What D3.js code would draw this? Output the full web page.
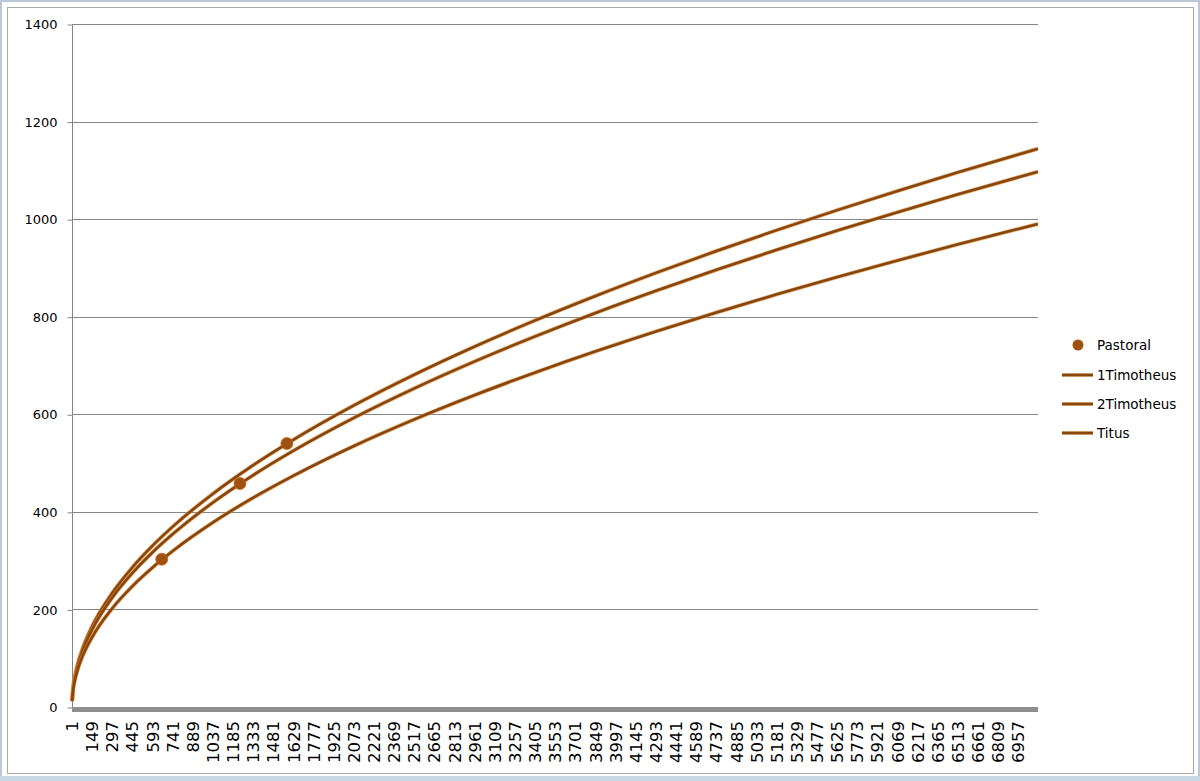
<!DOCTYPE html>
<html>
<head>
<meta charset="utf-8">
<script src="https://cdn.jsdelivr.net/npm/d3@7"></script>
<style>
  html, body { margin: 0; padding: 0; background: #ffffff; }
  svg { display: block; }
</style>
</head>
<body>
<svg id="chart" width="1200" height="781"></svg>
<script>
// ---- data ----
const sampleX = [1, 10, 25, 50, 75, 149, 297, 445, 593, 741, 1037, 1333, 1629, 2073, 2517, 2961, 3405, 3849, 4293, 4737, 5181, 5625, 6069, 6513, 6957, 7100];
const timotheus1 = [13.6, 42.9, 67.9, 96.0, 117.6, 165.8, 234.0, 286.5, 330.7, 369.7, 437.3, 495.8, 548.1, 618.3, 681.3, 739.0, 792.4, 842.5, 889.8, 934.7, 977.5, 1018.5, 1057.9, 1095.9, 1132.7, 1144.3];
const timotheus2 = [13.0, 41.2, 65.1, 92.1, 112.8, 158.9, 224.4, 274.7, 317.1, 354.4, 419.3, 475.4, 525.5, 592.8, 653.2, 708.5, 759.7, 807.8, 853.1, 896.1, 937.2, 976.5, 1014.3, 1050.8, 1086.0, 1097.1];
const titus      = [11.8, 37.2, 58.8, 83.1, 101.8, 143.4, 202.5, 247.9, 286.1, 319.8, 378.4, 429.0, 474.2, 535.0, 589.5, 639.4, 685.6, 729.0, 769.9, 808.7, 845.8, 881.3, 915.4, 948.3, 980.0, 990.1];
const pastoralX = [660, 1235, 1580];
const pastoralY = [303, 458, 540];
const lastCategory = 7100;
const yTicks = [0, 200, 400, 600, 800, 1000, 1200, 1400];
const xTickLabels = [1,149,297,445,593,741,889,1037,1185,1333,1481,1629,1777,1925,2073,2221,2369,2517,2665,2813,2961,3109,3257,3405,3553,3701,3849,3997,4145,4293,4441,4589,4737,4885,5033,5181,5329,5477,5625,5773,5921,6069,6217,6365,6513,6661,6809,6957];
const seriesNames = ["Pastoral", "1Timotheus", "2Timotheus", "Titus"];

// ---- layout ----
const svg = d3.select("#chart");
const W = 1200, H = 781;
const plot = { left: 72, right: 1038, top: 24, bottom: 707 };
const lineCore = "#86460f";
const lineEdge = "#e08a34";
const markerFill = "#a0510f";
const gridColor = "#868686";

// frame
svg.append("rect").attr("x", 0).attr("y", 0).attr("width", W).attr("height", H).attr("fill", "#ffffff");
svg.append("rect").attr("x", 1).attr("y", 1).attr("width", W - 2).attr("height", H - 2)
  .attr("fill", "none").attr("stroke", "#b9c7d6").attr("stroke-width", 2);
svg.append("rect").attr("x", 0).attr("y", 776).attr("width", W).attr("height", 5).attr("fill", "#c9d6e4");
svg.append("rect").attr("x", 7.5).attr("y", 7.5).attr("width", 1186).attr("height", 766)
  .attr("fill", "#ffffff").attr("stroke", "#ababab").attr("stroke-width", 1);

const x = d3.scaleLinear().domain([0.5, lastCategory + 0.5]).range([plot.left, plot.right]);
const y = d3.scaleLinear().domain([0, 1400]).range([plot.bottom, plot.top]);

// gridlines
svg.append("g").selectAll("line").data(yTicks.filter(d => d > 0)).join("line")
  .attr("x1", plot.left).attr("x2", plot.right)
  .attr("y1", d => Math.round(y(d)) + 0.5).attr("y2", d => Math.round(y(d)) + 0.5)
  .attr("stroke", gridColor).attr("stroke-width", 1);

// y axis
const yAxis = d3.axisLeft(y).tickValues(yTicks).tickSize(5).tickPadding(10).tickFormat(d3.format("d"));
const gy = svg.append("g").attr("transform", `translate(${plot.left + 0.5},0.5)`).call(yAxis);
gy.select(".domain").attr("stroke", gridColor).attr("d", `M0,${plot.top}V${plot.bottom}`);
gy.selectAll(".tick line").attr("stroke", gridColor);
gy.selectAll(".tick text").attr("font-family", "DejaVu Sans").attr("font-size", "13px").attr("fill", "#000");

// x axis thick bar
svg.append("rect").attr("x", plot.left).attr("y", plot.bottom).attr("width", plot.right - plot.left)
  .attr("height", 5).attr("fill", "#8e8e8e");

// x tick labels
svg.append("g").selectAll("text").data(xTickLabels).join("text")
  .attr("transform", d => `translate(${x(d)},721) rotate(-90)`)
  .attr("text-anchor", "end").attr("dy", "0.36em")
  .attr("font-family", "DejaVu Sans").attr("font-size", "16.5px").attr("fill", "#000")
  .text(d => d);

// lines
const line = d3.line().x(d => x(d[0])).y(d => y(d[1])).curve(d3.curveMonotoneX);
const seriesData = [timotheus1, timotheus2, titus].map(vals => sampleX.map((sx, i) => [sx, vals[i]]));
const gl = svg.append("g");
seriesData.forEach(s => {
  gl.append("path").attr("d", line(s)).attr("fill", "none").attr("stroke", lineEdge)
    .attr("stroke-width", 4).attr("stroke-opacity", 0.75).attr("stroke-linejoin", "round");
  gl.append("path").attr("d", line(s)).attr("fill", "none").attr("stroke", lineCore)
    .attr("stroke-width", 2.6).attr("stroke-linejoin", "round");
});

// markers
svg.append("g").selectAll("circle").data(pastoralX.map((px, i) => [px, pastoralY[i]])).join("circle")
  .attr("cx", d => x(d[0])).attr("cy", d => y(d[1])).attr("r", 6)
  .attr("fill", markerFill).attr("stroke", "#c06a20").attr("stroke-width", 0.8);

// legend
const lg = svg.append("g").attr("font-family", "DejaVu Sans").attr("font-size", "13.5px");
const legendY = [345, 375, 404, 433];
lg.append("circle").attr("cx", 1078).attr("cy", legendY[0]).attr("r", 5.5).attr("fill", markerFill);
[1, 2, 3].forEach(i => {
  lg.append("line").attr("x1", 1062).attr("x2", 1093).attr("y1", legendY[i]).attr("y2", legendY[i])
    .attr("stroke", lineEdge).attr("stroke-width", 4).attr("stroke-opacity", 0.6);
  lg.append("line").attr("x1", 1062).attr("x2", 1093).attr("y1", legendY[i]).attr("y2", legendY[i])
    .attr("stroke", lineCore).attr("stroke-width", 2.6);
});
seriesNames.forEach((n, i) => {
  lg.append("text").attr("x", 1097).attr("y", legendY[i]).attr("dy", "0.36em").attr("fill", "#000").text(n);
});
</script>
</body>
</html>
